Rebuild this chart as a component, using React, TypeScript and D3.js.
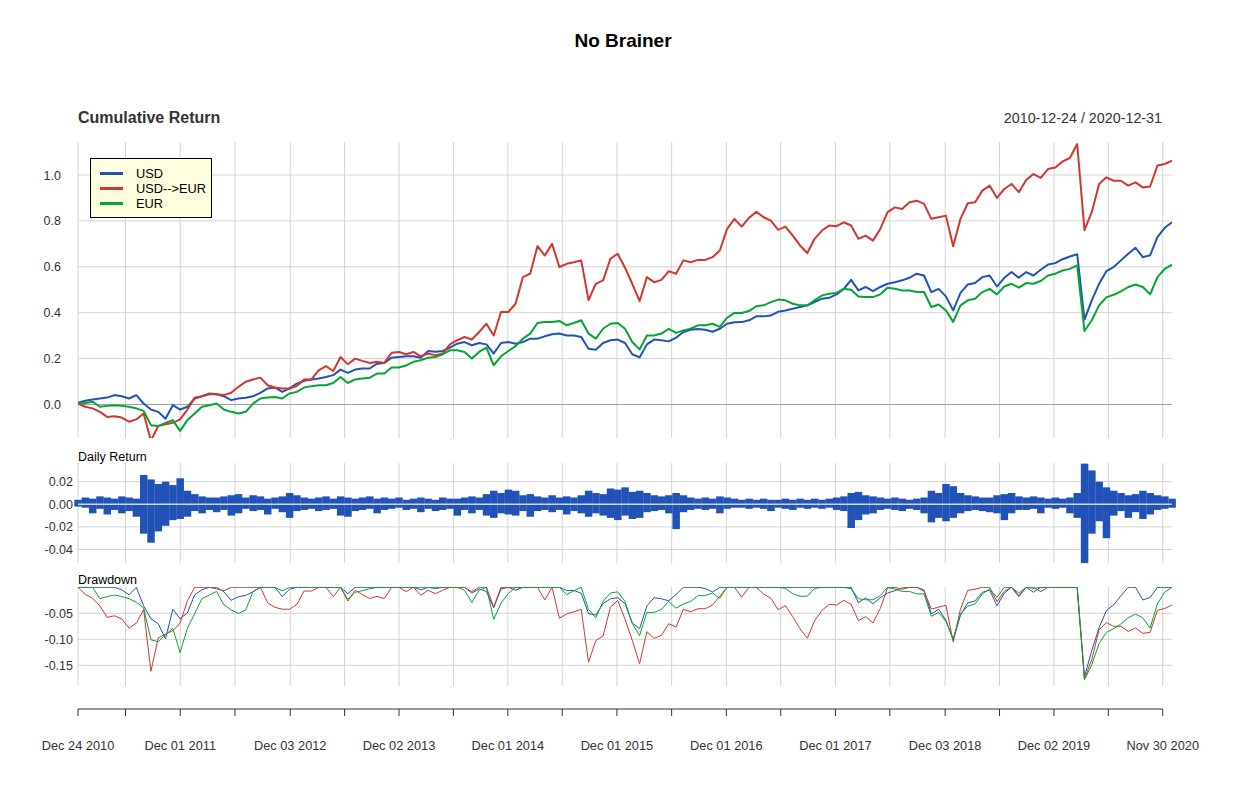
import React from 'react';
import * as d3 from 'd3';

// ---------- DATA ----------
const START = '2010-12-24';
const END = '2020-12-31';
const seriesNames = ['USD', 'USD-->EUR', 'EUR'];
const seriesColors = ['#2152B8', '#D1362F', '#05A532'];

// cumulative returns, sampled on a regular grid between START and END
const usd = [
  0.007, 0.016, 0.022, 0.026, 0.030, 0.041, 0.036, 0.026, 0.041, 0.004, -0.022, -0.032, -0.062, -0.003, -0.022, -0.010, 0.026, 0.036, 0.045, 0.045,
  0.036, 0.019, 0.026, 0.029, 0.036, 0.051, 0.070, 0.074, 0.055, 0.070, 0.091, 0.103, 0.109, 0.113, 0.120, 0.128, 0.152, 0.138,
  0.152, 0.157, 0.157, 0.178, 0.181, 0.204, 0.207, 0.210, 0.210, 0.204, 0.233, 0.230, 0.233, 0.248, 0.265, 0.272, 0.258, 0.268, 0.262, 0.222,
  0.268, 0.272, 0.265, 0.272, 0.287, 0.287, 0.297, 0.306, 0.309, 0.301, 0.301, 0.294, 0.243, 0.239, 0.268, 0.280, 0.283, 0.268,
  0.219, 0.205, 0.262, 0.283, 0.280, 0.275, 0.291, 0.316, 0.326, 0.329, 0.326, 0.317, 0.330, 0.352, 0.358, 0.359, 0.367, 0.384, 0.384, 0.388,
  0.404, 0.410, 0.417, 0.425, 0.432, 0.446, 0.461, 0.465, 0.480, 0.504, 0.543, 0.497, 0.512, 0.494, 0.512, 0.526, 0.533,
  0.541, 0.552, 0.570, 0.562, 0.490, 0.504, 0.471, 0.410, 0.486, 0.523, 0.529, 0.555, 0.562, 0.514, 0.552, 0.577, 0.552, 0.577, 0.562, 0.587,
  0.610, 0.616, 0.633, 0.645, 0.655, 0.370, 0.454, 0.526, 0.581, 0.599, 0.628, 0.657, 0.683, 0.642, 0.650, 0.729, 0.770, 0.794,
];
const usdEur = [
  0.004, -0.010, -0.017, -0.032, -0.054, -0.051, -0.057, -0.075, -0.065, -0.039, -0.158, -0.094, -0.086, -0.080, -0.065, -0.022, 0.030, 0.036, 0.048, 0.045,
  0.041, 0.051, 0.077, 0.099, 0.109, 0.117, 0.084, 0.074, 0.070, 0.070, 0.080, 0.109, 0.109, 0.149, 0.167, 0.146, 0.207, 0.175,
  0.200, 0.190, 0.181, 0.186, 0.181, 0.225, 0.229, 0.219, 0.229, 0.210, 0.222, 0.214, 0.222, 0.262, 0.280, 0.294, 0.283, 0.316, 0.352, 0.301,
  0.403, 0.403, 0.439, 0.555, 0.570, 0.690, 0.649, 0.700, 0.599, 0.613, 0.620, 0.628, 0.455, 0.526, 0.541, 0.635, 0.657, 0.596,
  0.526, 0.450, 0.555, 0.533, 0.543, 0.581, 0.570, 0.628, 0.620, 0.630, 0.630, 0.642, 0.671, 0.765, 0.809, 0.775, 0.813, 0.840, 0.816, 0.801,
  0.761, 0.775, 0.736, 0.693, 0.660, 0.722, 0.758, 0.780, 0.777, 0.794, 0.780, 0.722, 0.736, 0.714, 0.765, 0.838, 0.859,
  0.852, 0.881, 0.888, 0.874, 0.809, 0.816, 0.823, 0.690, 0.809, 0.877, 0.881, 0.932, 0.954, 0.900, 0.939, 0.961, 0.925, 0.978, 1.004, 0.987,
  1.026, 1.033, 1.059, 1.074, 1.135, 0.760, 0.838, 0.961, 0.990, 0.975, 0.975, 0.954, 0.968, 0.946, 0.950, 1.041, 1.048, 1.062,
];
const eur = [
  0.004, 0.007, 0.012, -0.010, -0.006, -0.003, -0.006, -0.010, -0.017, -0.028, -0.090, -0.094, -0.080, -0.068, -0.115, -0.068, -0.039, -0.010, -0.003, 0.004,
  -0.022, -0.032, -0.039, -0.032, 0.004, 0.026, 0.030, 0.033, 0.026, 0.048, 0.055, 0.074, 0.080, 0.084, 0.084, 0.094, 0.120, 0.094,
  0.109, 0.113, 0.117, 0.135, 0.135, 0.161, 0.161, 0.170, 0.186, 0.193, 0.204, 0.207, 0.219, 0.236, 0.236, 0.229, 0.200, 0.229, 0.248, 0.171,
  0.210, 0.233, 0.254, 0.287, 0.309, 0.355, 0.359, 0.359, 0.364, 0.345, 0.355, 0.367, 0.309, 0.287, 0.330, 0.352, 0.355, 0.330,
  0.272, 0.240, 0.301, 0.301, 0.309, 0.330, 0.312, 0.323, 0.330, 0.345, 0.345, 0.352, 0.338, 0.378, 0.399, 0.399, 0.407, 0.428, 0.432, 0.446,
  0.457, 0.454, 0.439, 0.432, 0.432, 0.454, 0.475, 0.483, 0.486, 0.504, 0.500, 0.471, 0.468, 0.468, 0.480, 0.509, 0.504,
  0.497, 0.497, 0.490, 0.490, 0.425, 0.436, 0.410, 0.360, 0.432, 0.454, 0.461, 0.490, 0.504, 0.480, 0.514, 0.526, 0.509, 0.529, 0.526, 0.538,
  0.562, 0.570, 0.584, 0.591, 0.606, 0.320, 0.367, 0.432, 0.467, 0.478, 0.493, 0.512, 0.523, 0.512, 0.480, 0.555, 0.591, 0.609,
];

// USD daily returns: highest and lowest daily value within each grid step
const dailyUp = [
  0.004, 0.006, 0.005, 0.007, 0.006, 0.005, 0.007, 0.006, 0.005, 0.026, 0.022, 0.018, 0.020, 0.017, 0.023, 0.012, 0.009, 0.007, 0.006, 0.006,
  0.007, 0.008, 0.009, 0.006, 0.008, 0.007, 0.005, 0.006, 0.007, 0.010, 0.008, 0.006, 0.005, 0.006, 0.007, 0.005, 0.007, 0.006,
  0.005, 0.006, 0.007, 0.005, 0.006, 0.005, 0.006, 0.004, 0.005, 0.006, 0.005, 0.004, 0.006, 0.005, 0.005, 0.006, 0.007, 0.006, 0.009, 0.012,
  0.010, 0.013, 0.012, 0.008, 0.009, 0.007, 0.006, 0.008, 0.006, 0.007, 0.006, 0.008, 0.012, 0.010, 0.009, 0.014, 0.013, 0.015,
  0.011, 0.012, 0.010, 0.008, 0.007, 0.008, 0.010, 0.008, 0.006, 0.005, 0.006, 0.005, 0.007, 0.006, 0.005, 0.004, 0.005, 0.004, 0.005, 0.004,
  0.004, 0.005, 0.004, 0.005, 0.004, 0.005, 0.004, 0.005, 0.006, 0.007, 0.010, 0.011, 0.008, 0.007, 0.006, 0.005, 0.006,
  0.005, 0.004, 0.005, 0.006, 0.012, 0.010, 0.018, 0.016, 0.010, 0.008, 0.007, 0.006, 0.006, 0.008, 0.009, 0.010, 0.007, 0.006, 0.007, 0.006,
  0.005, 0.006, 0.005, 0.006, 0.010, 0.036, 0.030, 0.020, 0.015, 0.012, 0.010, 0.008, 0.009, 0.012, 0.010, 0.008, 0.007, 0.005,
];
const dailyDown = [
  -0.002, -0.003, -0.008, -0.004, -0.009, -0.005, -0.008, -0.006, -0.011, -0.026, -0.034, -0.024, -0.019, -0.014, -0.013, -0.011, -0.006, -0.008, -0.005, -0.007,
  -0.005, -0.010, -0.008, -0.004, -0.006, -0.005, -0.009, -0.004, -0.007, -0.012, -0.006, -0.005, -0.004, -0.006, -0.005, -0.004, -0.010, -0.011,
  -0.006, -0.005, -0.004, -0.008, -0.005, -0.004, -0.003, -0.005, -0.004, -0.007, -0.004, -0.006, -0.005, -0.004, -0.010, -0.005, -0.008, -0.005, -0.010, -0.012,
  -0.008, -0.009, -0.010, -0.006, -0.011, -0.006, -0.005, -0.007, -0.005, -0.009, -0.006, -0.008, -0.011, -0.008, -0.010, -0.012, -0.014, -0.010,
  -0.013, -0.012, -0.007, -0.006, -0.005, -0.008, -0.022, -0.007, -0.005, -0.004, -0.005, -0.004, -0.008, -0.004, -0.003, -0.003, -0.004, -0.003, -0.004, -0.006,
  -0.003, -0.004, -0.005, -0.003, -0.004, -0.003, -0.004, -0.003, -0.005, -0.006, -0.021, -0.014, -0.009, -0.008, -0.005, -0.004, -0.005,
  -0.006, -0.004, -0.005, -0.008, -0.016, -0.012, -0.015, -0.012, -0.008, -0.006, -0.005, -0.006, -0.007, -0.008, -0.014, -0.008, -0.005, -0.005, -0.004, -0.008,
  -0.003, -0.004, -0.003, -0.008, -0.012, -0.052, -0.026, -0.015, -0.030, -0.010, -0.006, -0.012, -0.007, -0.013, -0.009, -0.005, -0.004, -0.003,
];

const majorTickDates = ['2010-12-24', '2011-12-01', '2012-12-03', '2013-12-02', '2014-12-01', '2015-12-01', '2016-12-01', '2017-12-01', '2018-12-03', '2019-12-02', '2020-11-30'];
const majorTickLabels = ['Dec 24 2010', 'Dec 01 2011', 'Dec 03 2012', 'Dec 02 2013', 'Dec 01 2014', 'Dec 01 2015', 'Dec 01 2016', 'Dec 01 2017', 'Dec 03 2018', 'Dec 02 2019', 'Nov 30 2020'];
const minorTickDates = ['2011-06-01', '2012-06-01', '2013-06-03', '2014-06-02', '2015-06-01', '2016-06-01', '2017-06-01', '2018-06-01', '2019-06-03', '2020-06-01'];
const cumTicks = [0.0, 0.2, 0.4, 0.6, 0.8, 1.0];
const dailyTicks = [0.02, 0.0, -0.02, -0.04];
const ddTicks = [-0.05, -0.1, -0.15];

// ---------- CHART ----------
const W = 1250;
const H = 796;
const FONT = '"Liberation Sans", Arial, Helvetica, sans-serif';
const TXT = '#333333';
const GRID = '#d3d3d3';

const parse = d3.utcParse('%Y-%m-%d');

export default function App() {
  const t0 = parse(START)!;
  const t1 = parse(END)!;
  const n = usd.length;
  const dates = d3.range(n).map((i) => new Date(t0.getTime() + (i * (t1.getTime() - t0.getTime())) / (n - 1)));

  const x = d3.scaleUtc().domain([t0, t1]).range([78, 1172]);
  const step = (x.range()[1] - x.range()[0]) / (n - 1);

  const yCum = d3.scaleLinear().domain([-0.146, 1.1438]).range([438, 142]);
  const yDay = d3.scaleLinear().domain([-0.05195, 0.03655]).range([563, 463]);
  const yDd = d3.scaleLinear().domain([-0.1898, 0.0006]).range([686, 587]);

  const series = [usd, usdEur, eur];
  const drawdowns = series.map((s) => {
    let peak = 1;
    return s.map((v) => {
      const w = 1 + v;
      peak = Math.max(peak, w);
      return w / peak - 1;
    });
  });

  const lineCum = d3
    .line<number>()
    .x((_, i) => x(dates[i]))
    .y((v) => yCum(v));
  const lineDd = d3
    .line<number>()
    .x((_, i) => x(dates[i]))
    .y((v) => yDd(v));

  const allTicks = [...majorTickDates, ...minorTickDates].map((d) => parse(d)!);

  const vGrid = (top: number, bottom: number, key: string) =>
    allTicks.map((d, i) => (
      <line key={key + i} x1={x(d)} x2={x(d)} y1={top} y2={bottom} stroke={GRID} strokeWidth={1} />
    ));

  return (
    <svg width={W} height={H} style={{ position: 'absolute', left: 0, top: 0, background: '#fff' }} fontFamily={FONT}>
      <defs>
        <clipPath id="clipCum">
          <rect x={78} y={142} width={1094} height={296} />
        </clipPath>
        <clipPath id="clipDd">
          <rect x={78} y={587} width={1094} height={99} />
        </clipPath>
      </defs>
      <rect x={0} y={0} width={W} height={H} fill="#fff" />

      {/* title */}
      <text x={623} y={46.5} textAnchor="middle" fontSize={19} fontWeight="bold" fill="#000">
        No Brainer
      </text>
      <text x={78} y={123} fontSize={16} fontWeight="bold" fill={TXT}>
        Cumulative Return
      </text>
      <text x={1162} y={123} textAnchor="end" fontSize={14.3} fill={TXT}>
        {START + ' / ' + END}
      </text>

      {/* ---- cumulative panel ---- */}
      {vGrid(142, 438, 'vc')}
      {cumTicks
        .filter((t) => t !== 0)
        .map((t) => (
          <line key={'hc' + t} x1={78} x2={1172} y1={yCum(t)} y2={yCum(t)} stroke={GRID} strokeWidth={1} />
        ))}
      <line x1={78} x2={1172} y1={yCum(0)} y2={yCum(0)} stroke="#a0a0a0" strokeWidth={1} />
      {cumTicks.map((t) => (
        <text key={'tc' + t} x={61} y={yCum(t) + 4.5} textAnchor="end" fontSize={12.5} fill={TXT}>
          {t.toFixed(1)}
        </text>
      ))}
      <g clipPath="url(#clipCum)">
        {series.map((s, k) => (
          <path key={'c' + k} d={lineCum(s) || ''} fill="none" stroke={seriesColors[k]} strokeWidth={2} strokeLinejoin="round" />
        ))}
      </g>

      {/* legend */}
      <rect x={90.5} y={158.5} width={121} height={59} fill="#FFFFE0" stroke="#000" strokeWidth={1} />
      {seriesNames.map((name, k) => (
        <g key={'lg' + k}>
          <line x1={100} x2={123} y1={173.5 + k * 15} y2={173.5 + k * 15} stroke={seriesColors[k]} strokeWidth={3} />
          <text x={136} y={178 + k * 15} fontSize={12.8} fill="#000">
            {name}
          </text>
        </g>
      ))}

      {/* ---- daily return panel ---- */}
      <text x={78} y={461} fontSize={12.5} fill="#000">
        Daily Return
      </text>
      {vGrid(463, 563, 'vd')}
      {dailyTicks
        .filter((t) => t !== 0)
        .map((t) => (
          <line key={'hd' + t} x1={78} x2={1172} y1={yDay(t)} y2={yDay(t)} stroke={GRID} strokeWidth={1} />
        ))}
      {dailyTicks.map((t) => (
        <text key={'td' + t} x={73} y={yDay(t) + 4.5} textAnchor="end" fontSize={12.5} fill={TXT}>
          {t.toFixed(2)}
        </text>
      ))}
      {dates.map((d, i) => (
        <rect
          key={'b' + i}
          x={x(d) - step / 2}
          width={step + 0.2}
          y={yDay(dailyUp[i])}
          height={yDay(dailyDown[i]) - yDay(dailyUp[i])}
          fill={seriesColors[0]}
        />
      ))}
      <line x1={78} x2={1172} y1={yDay(0)} y2={yDay(0)} stroke={GRID} strokeWidth={1.5} />

      {/* ---- drawdown panel ---- */}
      <text x={78} y={584} fontSize={12.5} fill="#000">
        Drawdown
      </text>
      {vGrid(587, 686, 'vdd')}
      {ddTicks.map((t) => (
        <line key={'hdd' + t} x1={78} x2={1172} y1={yDd(t)} y2={yDd(t)} stroke={GRID} strokeWidth={1} />
      ))}
      {ddTicks.map((t) => (
        <text key={'tdd' + t} x={73} y={yDd(t) + 4.5} textAnchor="end" fontSize={12.5} fill={TXT}>
          {t.toFixed(2)}
        </text>
      ))}
      <g clipPath="url(#clipDd)">
        {drawdowns.map((s, k) => (
          <path key={'d' + k} d={lineDd(s) || ''} fill="none" stroke={seriesColors[k]} strokeWidth={1} />
        ))}
      </g>

      {/* ---- x axis ---- */}
      <line x1={x(parse(majorTickDates[0])!)} x2={x(parse(majorTickDates[majorTickDates.length - 1])!)} y1={709} y2={709} stroke={TXT} strokeWidth={1} />
      {allTicks.map((d, i) => (
        <line key={'xt' + i} x1={x(d)} x2={x(d)} y1={709} y2={716} stroke={TXT} strokeWidth={1} />
      ))}
      {majorTickDates.map((d, i) => (
        <text key={'xl' + i} x={x(parse(d)!)} y={750} textAnchor="middle" fontSize={12.8} fill={TXT}>
          {majorTickLabels[i]}
        </text>
      ))}
    </svg>
  );
}
